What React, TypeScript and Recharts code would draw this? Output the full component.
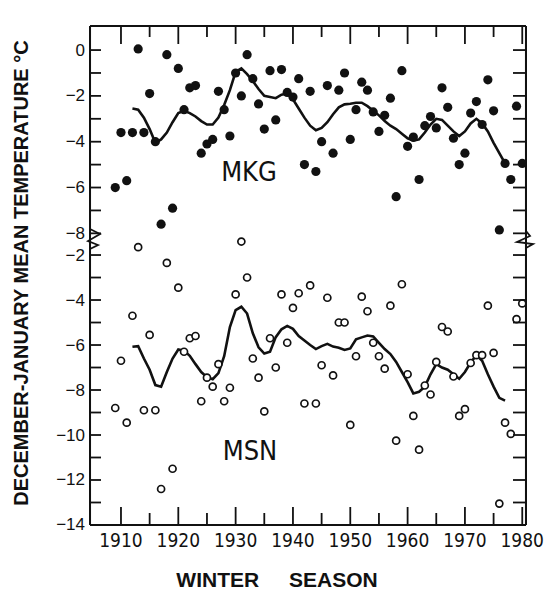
import { ComposedChart, Line, Scatter, XAxis, YAxis, Customized } from "recharts";

// winter seasons (year of January)
const seasons = [
  1909, 1910, 1911, 1912, 1913, 1914, 1915, 1916, 1917, 1918,
  1919, 1920, 1921, 1922, 1923, 1924, 1925, 1926, 1927, 1928,
  1929, 1930, 1931, 1932, 1933, 1934, 1935, 1936, 1937, 1938,
  1939, 1940, 1941, 1942, 1943, 1944, 1945, 1946, 1947, 1948,
  1949, 1950, 1951, 1952, 1953, 1954, 1955, 1956, 1957, 1958,
  1959, 1960, 1961, 1962, 1963, 1964, 1965, 1966, 1967, 1968,
  1969, 1970, 1971, 1972, 1973, 1974, 1975, 1976, 1977, 1978,
  1979, 1980,
];

// MKG: yearly Dec-Jan mean temperature (filled dots)
const mkgTemps = [
  -6.0, -3.6, -5.7, -3.6, 0.05, -3.6, -1.9, -4.0, -7.6, -0.2,
  -6.9, -0.8, -2.6, -1.65, -1.55, -4.5, -4.1, -3.9, -1.8, -2.6,
  -3.75, -1.0, -2.0, -0.2, -1.25, -2.35, -3.45, -0.9, -3.05, -0.85,
  -1.85, -2.05, -1.25, -5.0, -1.8, -5.3, -4.0, -1.55, -4.5, -1.75,
  -1.0, -3.9, -2.6, -1.4, -1.75, -2.7, -3.55, -2.85, -2.1, -6.4,
  -0.9, -4.2, -3.8, -5.65, -3.3, -2.9, -3.4, -1.65, -2.5, -3.85,
  -5.0, -4.5, -2.75, -2.25, -3.25, -1.3, -2.65, -7.85, -4.95, -5.65,
  -2.45, -4.95,
];

// MKG: running mean (solid line)
const mkgMean = [
  null, null, null, -2.55, -2.6, -2.95, -3.45, -4.05, -3.9, -3.6,
  -3.15, -2.75, -2.65, -2.75, -2.9, -3.1, -3.25, -3.25, -2.95, -2.4,
  -1.75, -0.95, -0.8, -1.05, -1.35, -1.7, -2.0, -2.05, -2.1, -1.95,
  -1.9, -2.15, -2.55, -2.95, -3.3, -3.5, -3.4, -3.15, -2.8, -2.5,
  -2.37, -2.34, -2.3, -2.3, -2.45, -2.65, -2.85, -3.1, -3.3, -3.45,
  -3.65, -3.85, -3.95, -3.9, -3.6, -3.25, -3.0, -3.05, -3.3, -3.55,
  -3.75, -3.55, -3.2, -3.0, -3.2, -3.55, -4.05, -4.5, -4.95, null,
  null, null,
];

// MSN: yearly Dec-Jan mean temperature (open circles)
const msnTemps = [
  -8.8, -6.7, -9.45, -4.7, -1.65, -8.9, -5.55, -8.9, -12.4, -2.35,
  -11.5, -3.45, -6.3, -5.7, -5.6, -8.5, -7.45, -7.85, -6.85, -8.5,
  -7.9, -3.75, -1.4, -3.0, -6.6, -7.45, -8.95, -5.7, -7.0, -3.75,
  -5.9, -4.35, -3.7, -8.6, -3.35, -8.6, -6.9, -3.9, -7.35, -5.0,
  -5.0, -9.55, -6.5, -3.85, -4.5, -5.9, -6.5, -7.05, -4.25, -10.25,
  -3.3, -7.3, -9.15, -10.65, -7.8, -8.2, -6.75, -5.2, -5.4, -7.4,
  -9.15, -8.85, -6.8, -6.45, -6.45, -4.25, -6.35, -13.05, -9.45, -9.95,
  -4.85, -4.15,
];

// MSN: running mean (solid line)
const msnMean = [
  null, null, null, -6.08, -6.05, -6.6, -7.1, -7.78, -7.85, -7.2,
  -6.6, -6.2, -6.25, -6.48, -6.85, -7.2, -7.43, -7.52, -7.25, -6.5,
  -5.2, -4.45, -4.3, -4.6, -5.48, -6.1, -6.38, -6.3, -5.65, -5.3,
  -5.15, -5.28, -5.6, -5.8, -6.0, -6.18, -6.05, -5.95, -6.07, -6.12,
  -6.22, -6.15, -5.75, -5.66, -5.58, -5.62, -5.9, -6.18, -6.4, -6.75,
  -7.2, -7.65, -8.15, -8.08, -7.85, -7.3, -6.85, -7.0, -7.1, -7.3,
  -7.5, -7.2, -6.78, -6.45, -6.7, -7.3, -7.85, -8.35, -8.47, null,
  null, null,
];

const yearTicks = [1910, 1915, 1920, 1925, 1930, 1935, 1940, 1945, 1950, 1955, 1960, 1965, 1970, 1975, 1980];
const mkgTicks = [0, -1, -2, -3, -4, -5, -6, -7, -8];
const msnTicks = [-2, -3, -4, -5, -6, -7, -8, -9, -10, -11, -12, -13, -14];

const data = seasons.map((year, i) => ({
  year,
  mkg: mkgTemps[i],
  mkgMean: mkgMean[i],
  msn: msnTemps[i],
  msnMean: msnMean[i],
}));

const FONT = '"Liberation Sans", Arial, Helvetica, sans-serif';
const NARROW = '"Liberation Sans Narrow", "Arial Narrow", "DejaVu Sans Condensed", sans-serif';
const INK = "#111";
const THIN = 0.01; // axes need a non-zero size to be drawn

const fmt = (v: number) => (v < 0 ? "\u2212" + Math.abs(v) : String(v));

const LeftTick = (props: any) => {
  const { x, y, payload } = props;
  const v = payload.value;
  return (
    <g>
      <line x1={x} x2={x + 11} y1={y} y2={y} stroke={INK} strokeWidth={1.8} />
      {v % 2 === 0 && (
        <text x={x - 5} y={y} textAnchor="end" dominantBaseline="central" fontFamily={FONT} fontSize={17} fill={INK}>
          {fmt(v)}
        </text>
      )}
    </g>
  );
};

const RightTick = (props: any) => {
  const { x, y } = props;
  return <line x1={x - 13} x2={x} y1={y} y2={y} stroke={INK} strokeWidth={1.8} />;
};

const BottomTick = (props: any) => {
  const { x, y, payload } = props;
  const major = payload.value % 10 === 0;
  return (
    <g>
      <line x1={x} x2={x} y1={y} y2={y - (major ? 18 : 12)} stroke={INK} strokeWidth={1.8} />
      {major && (
        <text x={x} y={y + 15} textAnchor="middle" dominantBaseline="central" fontFamily={NARROW} fontSize={19} fill={INK}>
          {payload.value}
        </text>
      )}
    </g>
  );
};

const TopTick = (props: any) => {
  const { x, y, payload } = props;
  const major = payload.value % 10 === 0;
  return <line x1={x} x2={x} y1={y} y2={y + (major ? 18 : 11)} stroke={INK} strokeWidth={1.8} />;
};

const FilledDot = (p: any) => <circle cx={p.cx} cy={p.cy} r={4.6} fill={INK} />;
const OpenDot = (p: any) => <circle cx={p.cx} cy={p.cy} r={3.5} fill="#fff" stroke={INK} strokeWidth={1.7} />;

const Decorations = () => (
  <g>
    {/* axis breaks */}
    <rect x={86} y={231} width={8} height={17} fill="#fff" />
    <path d="M90,229 L100,234 L88,241 L98,245 L90,249" fill="none" stroke={INK} strokeWidth={1.8} />
    <rect x={522} y={233} width={8} height={14} fill="#fff" />
    <path d="M526,231 L530,236 L517,242 L533,244 L526,248" fill="none" stroke={INK} strokeWidth={1.8} />

    <text x={249} y={171} textAnchor="middle" dominantBaseline="central" fontFamily={NARROW} fontSize={27} fill={INK}>
      MKG
    </text>
    <text x={250} y={450} textAnchor="middle" dominantBaseline="central" fontFamily={NARROW} fontSize={27} fill={INK}>
      MSN
    </text>
    <text
      transform="translate(21,273) rotate(-90)"
      textAnchor="middle"
      dominantBaseline="central"
      fontFamily={FONT}
      fontWeight="bold"
      fontSize={20}
      fill={INK}
    >
      DECEMBER-JANUARY MEAN TEMPERATURE °C
    </text>
    <text
      x={277}
      y={579}
      textAnchor="middle"
      dominantBaseline="central"
      fontFamily={FONT}
      fontWeight="bold"
      fontSize={21}
      wordSpacing={24}
      fill={INK}
    >
      WINTER SEASON
    </text>
  </g>
);

const axisLine = { stroke: INK, strokeWidth: 2 };

const App = () => {
  return (
    <div style={{ position: "absolute", left: 0, top: 0, width: 552, height: 589, background: "#fff" }}>
      <ComposedChart width={552} height={589} data={data} margin={{ top: 26, right: 26, bottom: 64, left: 90 }}>
        <XAxis
          xAxisId="bottom"
          type="number"
          dataKey="year"
          orientation="bottom"
          domain={[1904.6, 1980.65]}
          allowDataOverflow
          ticks={yearTicks}
          interval={0}
          height={THIN}
          tickSize={0}
          tickMargin={0}
          tickLine={false}
          axisLine={axisLine}
          tick={BottomTick}
        />
        <XAxis
          xAxisId="top"
          type="number"
          dataKey="year"
          orientation="top"
          domain={[1904.6, 1980.65]}
          allowDataOverflow
          ticks={yearTicks}
          interval={0}
          height={THIN}
          tickSize={0}
          tickMargin={0}
          tickLine={false}
          axisLine={axisLine}
          tick={TopTick}
        />
        <YAxis
          yAxisId="msn"
          type="number"
          orientation="left"
          domain={[-14, 8.18]}
          allowDataOverflow
          ticks={msnTicks}
          interval={0}
          width={THIN}
          tickSize={0}
          tickMargin={0}
          tickLine={false}
          axisLine={axisLine}
          tick={LeftTick}
        />
        <YAxis
          yAxisId="mkg"
          type="number"
          orientation="left"
          domain={[-20.73, 1.05]}
          allowDataOverflow
          ticks={mkgTicks}
          interval={0}
          width={THIN}
          tickSize={0}
          tickMargin={0}
          tickLine={false}
          axisLine={axisLine}
          tick={LeftTick}
        />
        <YAxis
          yAxisId="msnR"
          type="number"
          orientation="right"
          domain={[-14, 8.18]}
          allowDataOverflow
          ticks={msnTicks}
          interval={0}
          width={THIN}
          tickSize={0}
          tickMargin={0}
          tickLine={false}
          axisLine={axisLine}
          tick={RightTick}
        />
        <YAxis
          yAxisId="mkgR"
          type="number"
          orientation="right"
          domain={[-20.73, 1.05]}
          allowDataOverflow
          ticks={mkgTicks}
          interval={0}
          width={THIN}
          tickSize={0}
          tickMargin={0}
          tickLine={false}
          axisLine={axisLine}
          tick={RightTick}
        />
        <Line
          xAxisId="bottom"
          yAxisId="mkg"
          type="linear"
          dataKey="mkgMean"
          stroke={INK}
          strokeWidth={2.6}
          dot={false}
          isAnimationActive={false}
        />
        <Line
          xAxisId="bottom"
          yAxisId="msn"
          type="linear"
          dataKey="msnMean"
          stroke={INK}
          strokeWidth={2.6}
          dot={false}
          isAnimationActive={false}
        />
        <Scatter xAxisId="bottom" yAxisId="mkg" dataKey="mkg" shape={FilledDot} isAnimationActive={false} />
        <Scatter xAxisId="bottom" yAxisId="msn" dataKey="msn" shape={OpenDot} isAnimationActive={false} />
        <Customized component={Decorations} />
      </ComposedChart>
    </div>
  );
};

export default App;
